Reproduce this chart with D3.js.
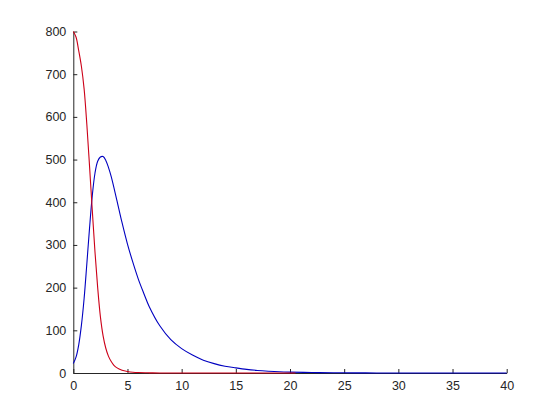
<!DOCTYPE html>
<html>
<head>
<meta charset="utf-8">
<script src="https://cdn.jsdelivr.net/npm/d3@7/dist/d3.min.js"></script>
<style>
  html, body { margin: 0; padding: 0; background: #fff; }
  svg { display: block; }
  .tick text { font-family: "Liberation Sans", Arial, Helvetica, sans-serif; font-size: 12.5px; fill: #262626; }
</style>
</head>
<body>
<svg id="chart" width="560" height="420"></svg>
<script>
// x ticks and y ticks
const xTicks = [0, 5, 10, 15, 20, 25, 30, 35, 40];
const yTicks = [0, 100, 200, 300, 400, 500, 600, 700, 800];

// Red series
const redT = [0, 0.25, 0.5, 0.75, 1.0, 1.25, 1.5, 1.75, 2.0, 2.25, 2.5, 2.75, 3.0, 3.25, 3.5, 3.75, 4.0, 4.5, 5.0, 5.5, 6.0, 7.0, 8.0, 10.0, 12.0, 15.0, 18.0, 20.5];
const redV = [800, 787, 755, 718, 665, 582, 484, 382, 284, 200, 132, 87, 58, 39, 27, 18, 12.5, 6.5, 3.5, 1.8, 1.0, 0.4, 0.15, 0.05, 0.02, 0.01, 0, 0];

// Blue series
const blueT = [0, 0.25, 0.5, 0.75, 1.0, 1.25, 1.5, 1.75, 2.0, 2.25, 2.5, 2.75, 3.0, 3.25, 3.5, 4.0, 4.5, 5.0, 5.5, 6.0, 6.5, 7.0, 8.0, 9.0, 10.0, 11.0, 12.0, 13.0, 14.0, 15.0, 16.0, 17.0, 18.0, 19.0, 20.0, 22.0, 24.0, 26.0, 28.0, 30.0, 33.0, 36.0, 40.0];
const blueV = [22, 37, 66, 112, 175, 256, 340, 415, 468, 496, 506, 507, 498, 481, 460, 407, 352, 302, 259, 220, 187, 156, 110, 78, 57, 42, 30, 22, 16, 12, 8.5, 6, 4.2, 2.8, 2.0, 1.1, 0.6, 0.3, 0.15, 0.08, 0.03, 0.01, 0];

const svg = d3.select("#chart");
const x = d3.scaleLinear().domain([0, 40]).range([73.3, 506.7]);
const y = d3.scaleLinear().domain([0, 800]).range([373, 31.5]);
const axisColor = "#262626";

const gx = svg.append("g").attr("transform", `translate(0,${y(0)})`)
  .call(d3.axisBottom(x).tickValues(xTicks).tickSizeInner(-4).tickSizeOuter(0).tickPadding(8).tickFormat(d3.format("d")));
const gy = svg.append("g").attr("transform", `translate(${x(0)},0)`)
  .call(d3.axisLeft(y).tickValues(yTicks).tickSizeInner(-4).tickSizeOuter(0).tickPadding(7).tickFormat(d3.format("d")));
[gx, gy].forEach(g => {
  g.select(".domain").attr("stroke", axisColor).attr("stroke-width", 1);
  g.selectAll(".tick line").attr("stroke", axisColor);
});

const line = d3.line().x(d => x(d[0])).y(d => y(d[1])).curve(d3.curveCatmullRom.alpha(0.5));

svg.append("path")
  .datum(blueT.map((t, i) => [t, blueV[i]]))
  .attr("fill", "none").attr("stroke", "#0000c0").attr("stroke-width", 1.1)
  .attr("d", line);

svg.append("path")
  .datum(redT.map((t, i) => [t, redV[i]]))
  .attr("fill", "none").attr("stroke", "#cc0018").attr("stroke-width", 1.1)
  .attr("d", line);
</script>
</body>
</html>
